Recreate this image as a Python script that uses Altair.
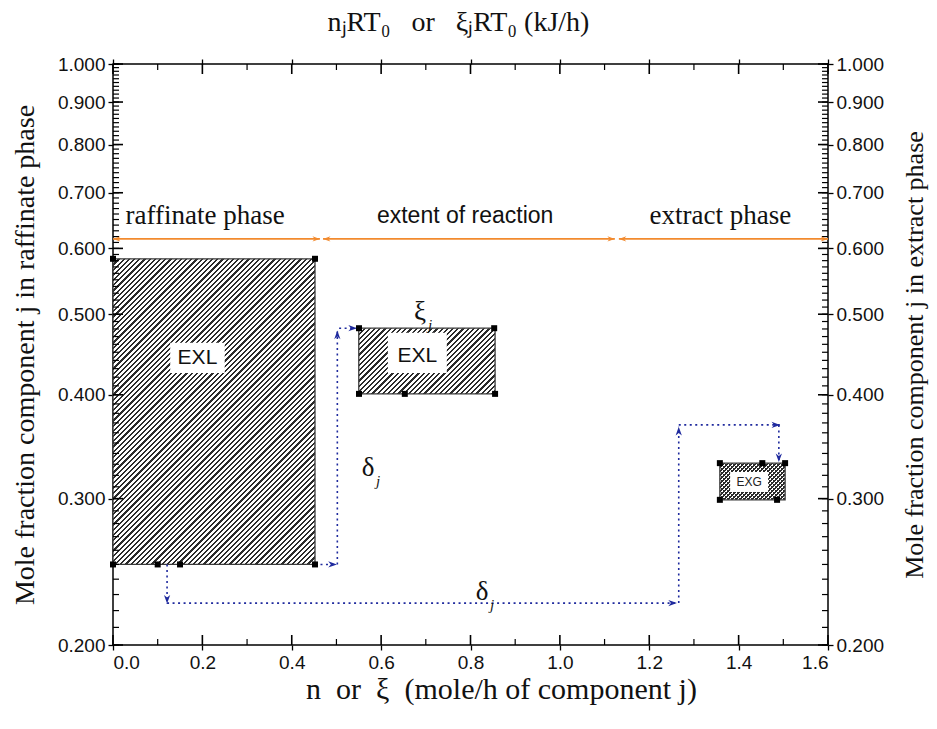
import math
import altair as alt
import pandas as pd

# ---------------- data ----------------
PW, PH = 715, 581
XMAX = 1.6
YMIN, YMAX = 0.2, 1.0

# phase rectangles (x0, x1, y0, y1)
rect_x0 = [0.0, 0.55, 1.358]
rect_x1 = [0.452, 0.855, 1.504]
rect_y0 = [0.25, 0.401, 0.299]
rect_y1 = [0.583, 0.481, 0.331]

# white label boxes inside rectangles
box_x0 = [0.128, 0.615, 1.381]
box_x1 = [0.250, 0.747, 1.466]
box_y0 = [0.425, 0.425, 0.3055]
box_y1 = [0.462, 0.475, 0.323]
box_text = ["EXL", "EXL", "EXG"]
box_tx = [0.189, 0.681, 1.4235]
box_ty = [0.443, 0.445, 0.314]

# black square markers
sq_x = [0.0, 0.452, 0.0, 0.1, 0.15, 0.452, 0.5505, 0.853, 0.5505, 0.653, 0.855,
        1.358, 1.453, 1.504, 1.358, 1.486]
sq_y = [0.583, 0.583, 0.25, 0.25, 0.25, 0.25, 0.481, 0.481, 0.401, 0.401, 0.401,
        0.331, 0.331, 0.331, 0.299, 0.299]

# orange double arrows
or_y = 0.616
or_x0 = [0.0, 0.47, 1.132]
or_x1 = [0.463, 1.123, 1.6]

# blue dotted arrows
bl_x0 = [0.452, 0.502, 0.506, 0.121, 0.121, 1.266, 1.266, 1.490]
bl_y0 = [0.25, 0.25, 0.481, 0.25, 0.2246, 0.2246, 0.368, 0.368]
bl_x1 = [0.501, 0.502, 0.546, 0.121, 1.262, 1.266, 1.493, 1.490]
bl_y1 = [0.25, 0.478, 0.481, 0.2243, 0.2246, 0.366, 0.368, 0.332]
bl_dir = ["right", "up", "right", "down", "right", "up", "right", "down"]

# phase labels
phase_text = ["raffinate phase", "extent of reaction", "extract phase"]
phase_x = [0.206, 0.788, 1.359]
phase_y = [0.656, 0.656, 0.656]
phase_font = ["Liberation Serif", "Liberation Sans", "Liberation Serif"]

# greek labels
greek_text = ["ξ", "δ", "δ"]
greek_x = [0.687, 0.571, 0.826]
greek_y = [0.503, 0.3266, 0.2316]

y_major = [0.2, 0.3, 0.4, 0.5, 0.6, 0.7, 0.8, 0.9, 1.0]
y_minor = [round(0.2 + 0.01 * i, 2) for i in range(81)]
x_major = [0.0, 0.2, 0.4, 0.6, 0.8, 1.0, 1.2, 1.4, 1.6]
x_minor = [0.1, 0.3, 0.5, 0.7, 0.9, 1.1, 1.3, 1.5]

NB = "\u00a0"
title_bottom = f"n{NB}{NB}or{NB}{NB}ξ{NB}{NB}(mole/h of component j)"
title_top = f"nⱼRT₀{NB}{NB}{NB}or{NB}{NB}{NB}ξⱼRT₀ (kJ/h)"
title_left = "Mole fraction component j in raffinate phase"
title_right = "Mole fraction component j in extract phase"

# ---------------- helpers ----------------
xs = alt.Scale(domain=[0, XMAX], nice=False, zero=False)
ys = alt.Scale(type="log", domain=[YMIN, YMAX], nice=False)

ORANGE = "#f28a2e"
BLUE = "#1f2a9e"


def X(field):
    return alt.X(field, scale=xs, axis=None)


def Y(field):
    return alt.Y(field, scale=ys, axis=None)


def pix_w(x0, x1):
    return (x1 - x0) / XMAX * PW


def pix_h(y0, y1):
    return (math.log(y1) - math.log(y0)) / math.log(YMAX / YMIN) * PH


def stripes(W, H, period, dark, light, frac, direction):
    c = (W + H) / (W * W + H * H)
    n = (W + H) / period
    stops = []
    k = 0
    while k / n < 1:
        a = k / n
        b = min((k + frac) / n, 1.0)
        e = min((k + 1) / n, 1.0)
        stops += [{"offset": a, "color": dark}, {"offset": b, "color": dark},
                  {"offset": b, "color": light}, {"offset": e, "color": light}]
        k += 1
    if direction == "/":
        x1, y1, x2, y2 = 0, 0, W * c, H * c
    else:
        x1, y1, x2, y2 = 0, 1, W * c, 1 - H * c
    return {"gradient": "linear", "x1": x1, "y1": y1, "x2": x2, "y2": y2, "stops": stops}


ARROW = {
    "right": "M0,0L-1,-0.36L-0.7,0L-1,0.36Z",
    "left": "M0,0L1,-0.36L0.7,0L1,0.36Z",
    "up": "M0,0L-0.36,1L0,0.7L0.36,1Z",
    "down": "M0,0L-0.36,-1L0,-0.7L0.36,-1Z",
}

layers = []

# hatched rectangles
for i in range(3):
    df = pd.DataFrame({"x": [rect_x0[i]], "x2": [rect_x1[i]], "y": [rect_y0[i]], "y2": [rect_y1[i]]})
    W = pix_w(rect_x0[i], rect_x1[i])
    H = pix_h(rect_y0[i], rect_y1[i])
    if i < 2:
        fill = stripes(W, H, 5.2, "#2b2b2b", "#ffffff", 0.4, "/")
        layers.append(alt.Chart(df).mark_rect(fill=fill, stroke="#3a3a3a", strokeWidth=1.3).encode(
            x=X("x:Q"), x2="x2", y=Y("y:Q"), y2="y2"))
    else:
        fill1 = stripes(W, H, 4.0, "#2b2b2b", "#ffffff", 0.4, "/")
        fill2 = stripes(W, H, 4.0, "#2b2b2b", "rgba(255,255,255,0)", 0.4, "\\")
        layers.append(alt.Chart(df).mark_rect(fill=fill1).encode(
            x=X("x:Q"), x2="x2", y=Y("y:Q"), y2="y2"))
        layers.append(alt.Chart(df).mark_rect(fill=fill2, stroke="#3a3a3a", strokeWidth=1.3).encode(
            x=X("x:Q"), x2="x2", y=Y("y:Q"), y2="y2"))

# ---------------- inward ticks on all four sides (tick marks) ----------------
for vals, ln, w in [(y_major, 10, 1.6), (y_minor, 6, 1.2)]:
    tdf = pd.DataFrame({"v": vals})
    for xpos in (ln / 2, PW - ln / 2):
        layers.append(alt.Chart(tdf).mark_tick(color="black", thickness=w, size=ln, opacity=1,
                                               orient="horizontal").encode(
            y=Y("v:Q"), x=alt.value(xpos)))
for vals, ln, w in [(x_major, 10, 1.6), (x_minor, 6, 1.2)]:
    tdf = pd.DataFrame({"v": vals})
    for ypos in (ln / 2, PH - ln / 2):
        layers.append(alt.Chart(tdf).mark_tick(color="black", thickness=w, size=ln, opacity=1,
                                               orient="vertical").encode(
            x=X("v:Q"), y=alt.value(ypos)))

# white label boxes
box_df = pd.DataFrame({"x": box_x0, "x2": box_x1, "y": box_y0, "y2": box_y1})
layers.append(alt.Chart(box_df).mark_rect(fill="white").encode(
    x=X("x:Q"), x2="x2", y=Y("y:Q"), y2="y2"))

lab_df = pd.DataFrame({"t": box_text, "x": box_tx, "y": box_ty})
layers.append(alt.Chart(lab_df.iloc[:2]).mark_text(font="Liberation Sans", fontSize=21, color="#111").encode(
    x=X("x:Q"), y=Y("y:Q"), text="t:N"))
layers.append(alt.Chart(lab_df.iloc[2:]).mark_text(font="Liberation Sans", fontSize=12, color="#222").encode(
    x=X("x:Q"), y=Y("y:Q"), text="t:N"))

# orange arrows
or_df = pd.DataFrame({"x": or_x0, "x2": or_x1, "y": [or_y] * 3})
layers.append(alt.Chart(or_df).mark_rule(color=ORANGE, strokeWidth=1.6).encode(
    x=X("x:Q"), x2="x2", y=Y("y:Q")))
layers.append(alt.Chart(pd.DataFrame({"x": or_x0, "y": [or_y] * 3})).mark_point(
    shape=ARROW["left"], filled=True, size=220, color=ORANGE, opacity=1, strokeWidth=0).encode(
    x=X("x:Q"), y=Y("y:Q")))
layers.append(alt.Chart(pd.DataFrame({"x": or_x1, "y": [or_y] * 3})).mark_point(
    shape=ARROW["right"], filled=True, size=220, color=ORANGE, opacity=1, strokeWidth=0).encode(
    x=X("x:Q"), y=Y("y:Q")))

# blue dotted arrows
bl_df = pd.DataFrame({"x": bl_x0, "y": bl_y0, "x2": bl_x1, "y2": bl_y1, "d": bl_dir})
layers.append(alt.Chart(bl_df).mark_rule(color=BLUE, strokeWidth=1.6, strokeDash=[2, 3.5]).encode(
    x=X("x:Q"), x2="x2", y=Y("y:Q"), y2="y2"))
for d in ["right", "up", "down"]:
    sub = bl_df[bl_df["d"] == d]
    layers.append(alt.Chart(sub).mark_point(
        shape=ARROW[d], filled=True, size=300, color=BLUE, opacity=1, strokeWidth=0).encode(
        x=X("x2:Q"), y=Y("y2:Q")))

# black squares
sq_df = pd.DataFrame({"x": sq_x, "y": sq_y})
layers.append(alt.Chart(sq_df).mark_square(size=36, color="black", opacity=1).encode(
    x=X("x:Q"), y=Y("y:Q")))

# phase texts
ph_df = pd.DataFrame({"t": phase_text, "x": phase_x, "y": phase_y, "f": phase_font})
for f in ["Liberation Serif", "Liberation Sans"]:
    sub = ph_df[ph_df["f"] == f]
    layers.append(alt.Chart(sub).mark_text(font=f, fontSize=27 if f.endswith("Serif") else 23, color="#111").encode(
        x=X("x:Q"), y=Y("y:Q"), text="t:N"))

# greek symbols with subscript j
gr_df = pd.DataFrame({"t": greek_text, "x": greek_x, "y": greek_y})
layers.append(alt.Chart(gr_df).mark_text(font="Liberation Serif", fontSize=27, color="#111").encode(
    x=X("x:Q"), y=Y("y:Q"), text="t:N"))
gr_df["j"] = "j"
layers.append(alt.Chart(gr_df).mark_text(font="Liberation Serif", fontSize=15, fontStyle="italic",
                                         color="#111", dx=10, dy=13).encode(
    x=X("x:Q"), y=Y("y:Q"), text="j:N"))

# ---------------- axes (labels, titles, major ticks) ----------------
LABEL_FONT = "Liberation Sans"
TITLE_FONT = "Liberation Serif"
common_lab = dict(labelFont=LABEL_FONT, labelFontSize=19, labelColor="#111", ticks=True,
                  tickSize=5, tickWidth=1.3, tickColor="black",
                  domain=False, grid=False, titleFont=TITLE_FONT,
                  titleFontWeight="normal", titleColor="#111")

axis_specs = [
    (alt.Axis(orient="bottom", values=x_major, format=".1f", labelPadding=3,
              title=title_bottom, titlePadding=2, titleFontSize=30, titleX=388, **common_lab),
     alt.Axis(orient="left", values=y_major, format=".3f", labelPadding=3,
              title=title_left, titlePadding=18, titleFontSize=28, **common_lab)),
    (alt.Axis(orient="top", values=x_major, labels=False, ticks=True, tickSize=5, tickWidth=1.3,
              tickColor="black", domain=False, grid=False,
              title=title_top, titlePadding=22, titleFont=TITLE_FONT, titleX=345,
              titleFontSize=28, titleFontWeight="normal", titleColor="#111"),
     alt.Axis(orient="right", values=y_major, format=".3f", labelPadding=3, titleAngle=270,
              titleBaseline="top", title=title_right, titlePadding=18, titleFontSize=26,
              **common_lab)),
]

for ax_x, ax_y in axis_specs:
    layers.append(alt.Chart(sq_df.iloc[:1]).mark_point(opacity=0).encode(
        x=alt.X("x:Q", scale=xs, axis=ax_x), y=alt.Y("y:Q", scale=ys, axis=ax_y)))

chart = alt.layer(*layers).resolve_axis(x="independent", y="independent").properties(
    width=PW, height=PH,
    autosize=alt.AutoSizeParams(type="none"),
    padding={"left": 105, "top": 56, "right": 101, "bottom": 76},
    background="white",
).configure_view(stroke="black", strokeWidth=1.5)

chart.save("out.html", embed_options={"renderer": "svg", "actions": False})
